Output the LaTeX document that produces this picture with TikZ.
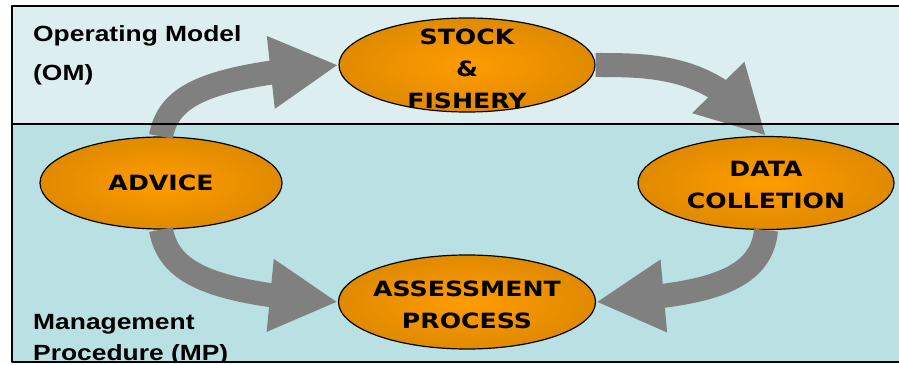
\documentclass[tikz,border=0pt]{standalone}
\usepackage{fontspec}
\newfontfamily\bandfont[FakeStretch=1.2]{Liberation Sans}
\newfontfamily\blobfont[FakeStretch=1.2]{DejaVu Sans}
\usetikzlibrary{arrows.meta,bending,shapes.geometric}
\definecolor{omband}{RGB}{220,238,240}
\definecolor{mpband}{RGB}{185,224,227}
\definecolor{flowgray}{RGB}{128,128,128}
\definecolor{blobin}{RGB}{255,156,0}
\definecolor{blobout}{RGB}{224,138,0}

\begin{document}
\begin{tikzpicture}[x=1pt,y=1pt,line join=round,
    blob/.style={ellipse,draw=black,line width=1.2pt,inner sep=0pt,inner color=blobin,outer color=blobout},
    blobtext/.style={align=center,inner sep=0pt,font=\blobfont\bfseries\fontsize{21}{32}\selectfont},
    flow/.style={draw=flowgray,line width=24pt,-{Triangle[length=68pt,width=68pt,flex]}},
    bandlabel/.style={anchor=north west,align=left,inner sep=0pt}]
        \useasboundingbox (0,0) rectangle (899,364);

        % the two bands
        \fill [omband] (12,240) rectangle (899,358);
        \fill [mpband] (12,2) rectangle (899,240);

        \node [blob,minimum width=256pt,minimum height=94pt] (stock) at (467,299) {};
        \node [blob,minimum width=242pt,minimum height=92pt] (advice) at (161,181) {};
        \node [blob,minimum width=256pt,minimum height=93pt] (data) at (766,181) {};
        \node [blob,minimum width=257pt,minimum height=94pt] (assess) at (467,62) {};

        \node [blobtext] (stocktxt) at ([yshift=-4pt]stock.center) {STOCK\\\&\\FISHERY};
        \node [blobtext] (advicetxt) at (advice.center) {ADVICE};
        \node [blobtext] (datatxt) at ([yshift=-2pt]data.center) {DATA\\COLLETION};
        \node [blobtext] (assesstxt) at ([yshift=-3pt]assess.center) {ASSESSMENT\\PROCESS};

        \draw [flow] (advice.north) to[out=80,in=185,out looseness=0.6,in looseness=1.7] (stock.west);
        \draw [flow] (stock.east) to[out=0,in=125,out looseness=0.8,in looseness=1.2] (data.north);
        \draw [flow] (data.south) to[out=-95,in=4,out looseness=0.8,in looseness=1.3] (assess.east);
        \draw [flow] (advice.south) to[out=-80,in=176,out looseness=0.6,in looseness=1.7] (assess.west);

        \begin{scope}
        \clip (12,2) rectangle (899,358);
        \node [bandlabel,font=\bandfont\bfseries\fontsize{22}{39}\selectfont] (om) at (33,339) {Operating Model\\(OM)};
        \node [bandlabel,font=\bandfont\bfseries\fontsize{22}{31}\selectfont] (mp) at (33,50) {Management\\Procedure (MP)};
        \end{scope}

        % frame
        \draw [line width=1.5pt] (899,358) -- (12,358) -- (12,2) -- (899,2);
        \draw [line width=1.5pt] (12,240) -- (899,240);
\end{tikzpicture}
\end{document}
